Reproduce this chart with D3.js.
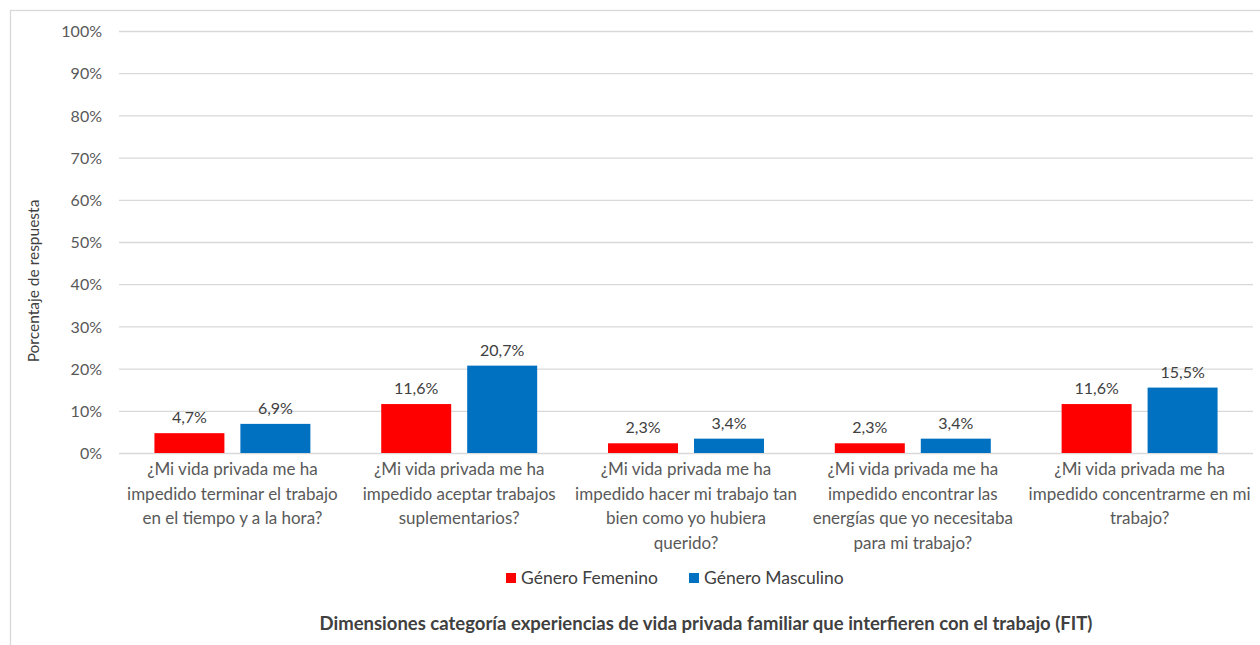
<!DOCTYPE html>
<html>
<head>
<meta charset="utf-8">
<style>
  body { margin: 0; background: #fff; }
  svg { display: block; font-family: Lato, "Open Sans", sans-serif; }
  .axis text { font-family: Lato, "Open Sans", sans-serif; }
  .grid line { stroke: #d9d9d9; stroke-width: 1.3; }
  .grid .domain { display: none; }
  .y .domain, .y line { display: none; }
  .y text { font-size: 16px; fill: #595959; }
  .x .domain, .x line { display: none; }
  .x text { font-size: 17px; fill: #595959; }
</style>
</head>
<body>
<svg width="1260" height="645"></svg>
<script src="https://d3js.org/d3.v7.min.js"></script>
<script>
// data
const categories = [
  "¿Mi vida privada me ha\nimpedido terminar el trabajo\nen el tiempo y a la hora?",
  "¿Mi vida privada me ha\nimpedido aceptar trabajos\nsuplementarios?",
  "¿Mi vida privada me ha\nimpedido hacer mi trabajo tan\nbien como yo hubiera\nquerido?",
  "¿Mi vida privada me ha\nimpedido encontrar las\nenergías que yo necesitaba\npara mi trabajo?",
  "¿Mi vida privada me ha\nimpedido concentrarme en mi\ntrabajo?"
];
const seriesNames = ["Género Femenino", "Género Masculino"];
const femenino = [4.7, 11.6, 2.3, 2.3, 11.6];
const masculino = [6.9, 20.7, 3.4, 3.4, 15.5];
const colors = ["#ff0000", "#0070c0"];
const yTicks = [0, 10, 20, 30, 40, 50, 60, 70, 80, 90, 100];

const svg = d3.select("svg");
const margin = { top: 31, right: 7, bottom: 192, left: 119 };
const width = 1260, height = 645;

// chart frame
svg.append("rect")
  .attr("x", 10.5).attr("y", 10.5)
  .attr("width", 1300).attr("height", 700)
  .attr("fill", "none").attr("stroke", "#d9d9d9").attr("stroke-width", 1.3);

const rows = categories.map((c, i) => ({ cat: c, vals: [femenino[i], masculino[i]] }));

const x0 = d3.scaleBand()
  .domain(categories)
  .range([margin.left, width - margin.right])
  .padding(0);

const x1 = d3.scaleBand()
  .domain(seriesNames)
  .range([0, x0.bandwidth()])
  .paddingInner(0.186)
  .paddingOuter(0.412);

const y = d3.scaleLinear()
  .domain([0, 100])
  .range([height - margin.bottom, margin.top]);

// gridlines
svg.append("g")
  .attr("class", "grid")
  .attr("transform", `translate(${margin.left},0)`)
  .call(d3.axisLeft(y).tickValues(yTicks).tickSize(-(width - margin.right - margin.left)).tickFormat(""));

// y axis labels
svg.append("g")
  .attr("class", "y axis")
  .attr("transform", `translate(${margin.left - 17},0)`)
  .call(d3.axisLeft(y).tickValues(yTicks).tickSize(0).tickPadding(0).tickFormat(d => d + "%"))
  .selectAll("text").attr("dy", "0.35em");

// x axis labels (multi-line)
const xAxis = svg.append("g")
  .attr("class", "x axis")
  .attr("transform", `translate(0,${height - margin.bottom})`)
  .call(d3.axisBottom(x0).tickSize(0).tickPadding(0));

xAxis.selectAll(".tick text").each(function(d) {
  const t = d3.select(this).text(null).attr("y", 0).attr("dy", null);
  d.split("\n").forEach((line, i) => {
    t.append("tspan").attr("x", 0).attr("y", 22 + i * 24.5).text(line);
  });
});

// bars
const groups = svg.append("g")
  .selectAll("g")
  .data(rows)
  .join("g")
  .attr("transform", d => `translate(${x0(d.cat)},0)`);

groups.selectAll("rect")
  .data(d => d.vals.map((v, i) => ({ name: seriesNames[i], v: v, i: i })))
  .join("rect")
  .attr("x", d => x1(d.name))
  .attr("width", x1.bandwidth())
  .attr("y", d => y(d.v))
  .attr("height", d => y(0) - y(d.v))
  .attr("fill", d => colors[d.i]);

groups.selectAll("text")
  .data(d => d.vals.map((v, i) => ({ name: seriesNames[i], v: v })))
  .join("text")
  .attr("x", d => x1(d.name) + x1.bandwidth() / 2)
  .attr("y", d => y(d.v) - 10)
  .attr("text-anchor", "middle")
  .attr("font-size", 16)
  .attr("fill", "#404040")
  .text(d => d3.format(".1f")(d.v).replace(".", ",") + "%");

// y title
svg.append("text")
  .attr("transform", `translate(39,${(y(0) + y(100)) / 2 + 39}) rotate(-90)`)
  .attr("text-anchor", "middle")
  .attr("font-size", 15.5)
  .attr("fill", "#404040")
  .text("Porcentaje de respuesta");

// legend
const legend = svg.append("g").attr("transform", "translate(0,578)");
const legendX = [506, 689];
seriesNames.forEach((name, i) => {
  legend.append("rect")
    .attr("x", legendX[i]).attr("y", -5)
    .attr("width", 10).attr("height", 10)
    .attr("fill", colors[i]);
  legend.append("text")
    .attr("x", legendX[i] + 15).attr("y", 0)
    .attr("dy", "0.35em")
    .attr("font-size", 17.5)
    .attr("fill", "#404040")
    .text(name);
});

// x title
svg.append("text")
  .attr("x", 706).attr("y", 624)
  .attr("dy", "0.35em")
  .attr("text-anchor", "middle")
  .attr("font-size", 18.5)
  .attr("font-weight", "bold")
  .attr("fill", "#404040")
  .text("Dimensiones categoría experiencias de vida privada familiar que interfieren con el trabajo (FIT)");
</script>
</body>
</html>
